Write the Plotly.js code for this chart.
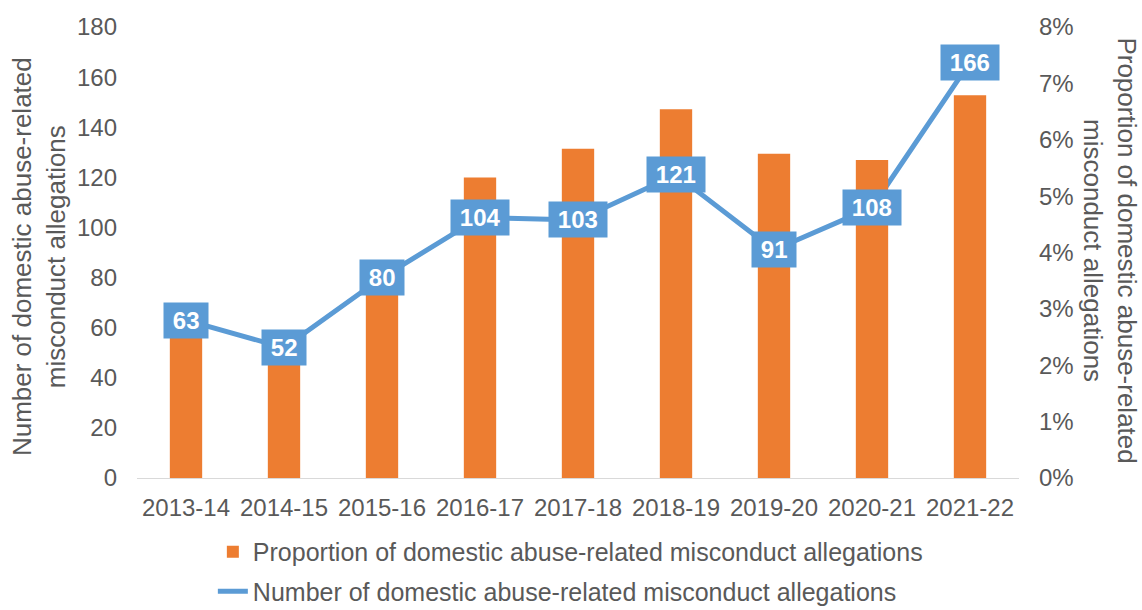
<!DOCTYPE html>
<html>
<head>
<meta charset="utf-8">
<script src="https://cdn.plot.ly/plotly-3.0.1.min.js"></script>
<style>html,body{margin:0;padding:0;background:#fff;}#chart{width:1142px;height:610px;}</style>
</head>
<body>
<div id="chart"></div>
<script>
const categories = ['2013-14','2014-15','2015-16','2016-17','2017-18','2018-19','2019-20','2020-21','2021-22'];
const allegationCounts = [63, 52, 80, 104, 103, 121, 91, 108, 166];
const allegationProportions = [0.027, 0.021, 0.035, 0.0533, 0.0584, 0.0654, 0.0575, 0.0564, 0.0679];
const barName = 'Proportion of domestic abuse-related misconduct allegations';
const lineName = 'Number of domestic abuse-related misconduct allegations';

const textColor = '#595959';
const fontFam = 'Arial, "Liberation Sans", sans-serif';

const bars = {
  type: 'bar', x: categories, y: allegationProportions, yaxis: 'y2', name: barName,
  marker: {color: '#ED7D31'}, width: 0.33, legendgroup: 'a', hoverinfo: 'skip'
};
const line = {
  type: 'scatter', mode: 'lines', x: categories, y: allegationCounts, name: lineName,
  line: {color: '#5B9BD5', width: 5}, legendgroup: 'b', hoverinfo: 'skip'
};

const sp = '\u2009';
const labelAnns = categories.map((c, i) => ({
  x: c, y: allegationCounts[i], xref: 'x', yref: 'y',
  text: '<b>' + sp + allegationCounts[i] + sp + '</b>', showarrow: false,
  bgcolor: '#5B9BD5', borderpad: 4,
  font: {family: fontFam, size: 24, color: '#ffffff'}
}));

const titleAnns = [
  {xref: 'paper', yref: 'paper', x: -0.111, y: 0.49, xanchor: 'center', yanchor: 'middle',
   text: 'Number of domestic abuse-related<br>misconduct allegations', textangle: -90, showarrow: false,
   font: {family: fontFam, size: 26, color: textColor}},
  {xref: 'paper', yref: 'paper', x: 1.103, y: 0.505, xanchor: 'center', yanchor: 'middle',
   text: 'Proportion of domestic abuse-related<br>misconduct allegations', textangle: 90, showarrow: false,
   font: {family: fontFam, size: 26, color: textColor}}
];

const layout = {
  width: 1142, height: 610,
  margin: {l: 137, r: 123, t: 27, b: 132, autoexpand: false},
  paper_bgcolor: '#ffffff', plot_bgcolor: '#ffffff',
  font: {family: fontFam, size: 24, color: textColor},
  showlegend: true,
  legend: {x: 0.086, y: -0.113, xanchor: 'left', yanchor: 'top', orientation: 'v',
           traceorder: 'grouped', tracegroupgap: 4,
           font: {family: fontFam, size: 25, color: textColor}, bgcolor: 'rgba(0,0,0,0)'},
  xaxis: {type: 'category', showgrid: false, showline: true, linecolor: '#D9D9D9', linewidth: 1,
          ticks: '', ticklabelstandoff: 8, tickfont: {size: 24, color: textColor}, fixedrange: true},
  yaxis: {range: [0, 180], dtick: 20, showgrid: false, zeroline: false, showline: false,
          ticks: '', ticklabelstandoff: 19, tickfont: {size: 24, color: textColor}, fixedrange: true},
  yaxis2: {range: [0, 0.08], dtick: 0.01, tickformat: '.0%', overlaying: 'y', side: 'right',
           showgrid: false, zeroline: false, showline: false, ticks: '', ticklabelstandoff: 19,
           tickfont: {size: 24, color: textColor}, fixedrange: true},
  annotations: labelAnns.concat(titleAnns)
};

Plotly.newPlot('chart', [bars, line], layout, {displayModeBar: false, staticPlot: true});
</script>
</body>
</html>
